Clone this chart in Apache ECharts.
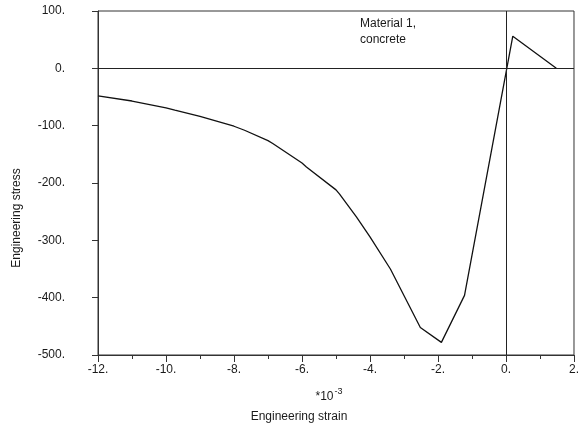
<!DOCTYPE html>
<html>
<head>
<meta charset="utf-8">
<script src="https://cdn.jsdelivr.net/npm/echarts@6/dist/echarts.min.js"></script>
<style>
html,body{margin:0;padding:0;background:#fff;}
#main{width:582px;height:424px;}
</style>
</head>
<body>
<div id="main"></div>
<script>
// strain in units of 1e-3, stress as plotted
var strainValues = [-12, -11, -10, -9.74, -9, -8, -7.69, -7, -6.86, -6, -5.87, -5, -4.9, -4.4, -4, -3.4, -2.52, -1.9, -1.22, 0.2, 1.48];
var stressValues = [-48, -57, -69, -73, -84, -101, -108, -126, -131, -165, -172, -212, -219, -259, -294, -350, -452, -478, -396, 56, 0];
var xTicks = [-12, -10, -8, -6, -4, -2, 0, 2];
var yTicks = [-500, -400, -300, -200, -100, 0, 100];

var font = "'Liberation Sans', Arial, sans-serif";
var ink = '#1a1a1a';

var curve = [];
for (var i = 0; i < strainValues.length; i++) {
	curve.push([strainValues[i], stressValues[i]]);
}

var chart = echarts.init(document.getElementById('main'));
var option = {
	animation: false,
	grid: {
		left: 98,
		right: 5,
		top: 11,
		bottom: 69,
		show: true,
		borderColor: '#333',
		borderWidth: 1
	},
	xAxis: {
		type: 'value',
		min: xTicks[0],
		max: xTicks[xTicks.length - 1],
		interval: 2,
		axisLine: { show: true, onZero: false, lineStyle: { color: '#333', width: 1 } },
		axisTick: { show: true, inside: false, length: 7, lineStyle: { color: '#333' } },
		minorTick: { show: true, splitNumber: 2, length: 4, lineStyle: { color: '#333' } },
		splitLine: { show: false },
		axisLabel: {
			margin: 9,
			color: ink,
			fontFamily: font,
			fontSize: 12,
			formatter: function (v) { return v + '.'; }
		}
	},
	yAxis: {
		type: 'value',
		min: yTicks[0],
		max: yTicks[yTicks.length - 1],
		interval: 100,
		axisLine: { show: true, onZero: false, lineStyle: { color: '#333', width: 1 } },
		axisTick: { show: true, inside: false, length: 6, lineStyle: { color: '#333' } },
		splitLine: { show: false },
		axisLabel: {
			margin: 33,
			color: ink,
			fontFamily: font,
			fontSize: 12,
			formatter: function (v) { return v + '.'; }
		}
	},
	series: [
		{
			name: 'Material 1, concrete',
			type: 'line',
			data: curve,
			symbol: 'none',
			lineStyle: { color: '#111', width: 1.3 },
			markLine: {
				silent: true,
				symbol: 'none',
				label: { show: false },
				lineStyle: { color: '#222', width: 1, type: 'solid' },
				data: [{ xAxis: 0 }, { yAxis: 0 }]
			}
		}
	],
	graphic: [
		{
			type: 'text',
			left: 360,
			top: 16,
			style: {
				text: 'Material 1,\nconcrete',
				fill: ink,
				font: '12px ' + font,
				lineHeight: 16
			}
		},
		{
			type: 'text',
			x: 329,
			y: 395,
			style: {
				text: '{b|*10}{s|-3}',
				align: 'center',
				verticalAlign: 'middle',
				rich: {
					b: { fontSize: 12, fontFamily: font, fill: ink, color: ink, verticalAlign: 'bottom' },
					s: { fontSize: 9, fontFamily: font, fill: ink, color: ink, verticalAlign: 'top', padding: [0, 0, 6, 1] }
				}
			}
		},
		{
			type: 'text',
			x: 299,
			y: 417,
			style: {
				text: 'Engineering strain',
				align: 'center',
				verticalAlign: 'middle',
				fill: ink,
				font: '12px ' + font
			}
		},
		{
			type: 'text',
			x: 17,
			y: 218,
			rotation: Math.PI / 2,
			style: {
				text: 'Engineering stress',
				align: 'center',
				verticalAlign: 'middle',
				fill: ink,
				font: '12px ' + font
			}
		}
	]
};
chart.setOption(option);
</script>
</body>
</html>
